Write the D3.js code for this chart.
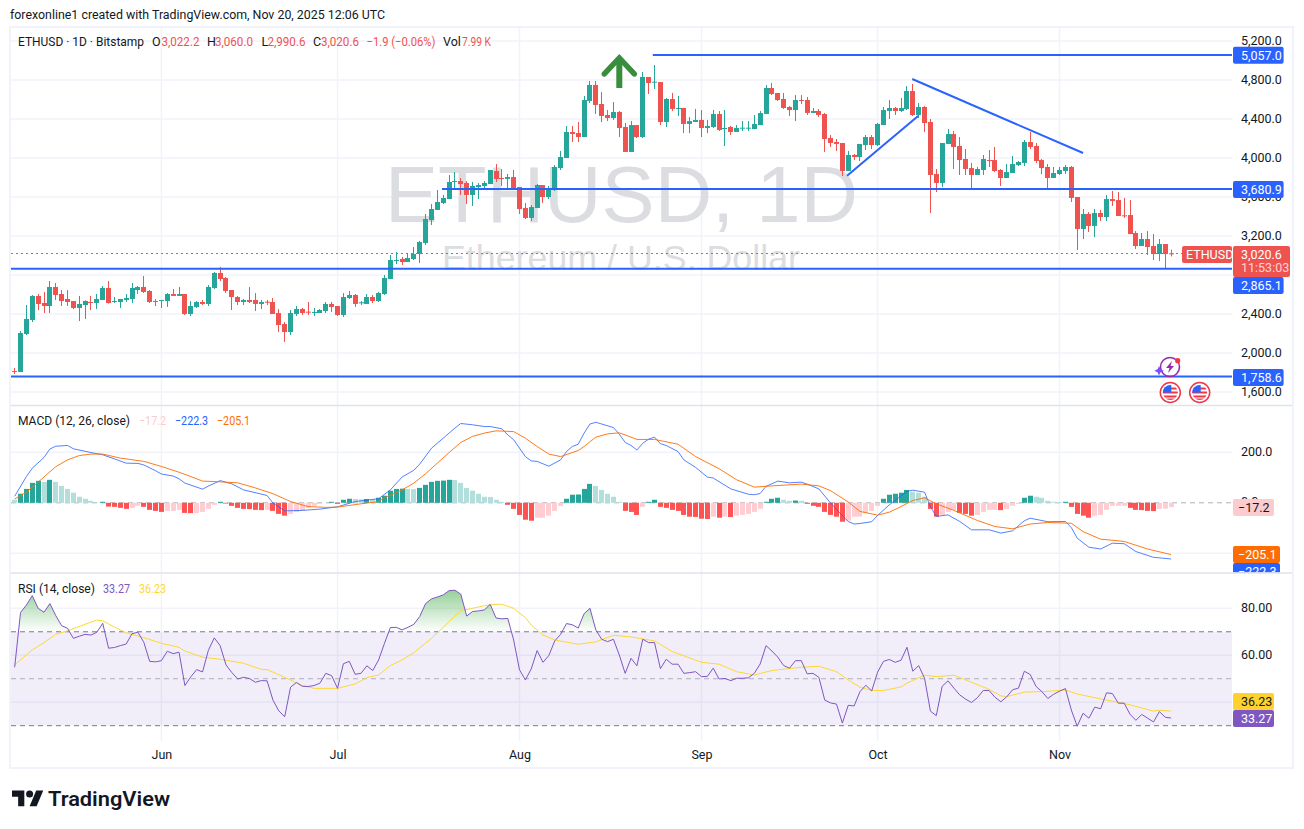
<!DOCTYPE html>
<html>
<head>
<meta charset="utf-8">
<title>ETHUSD 1D</title>
<script src="https://cdn.jsdelivr.net/npm/d3@7"></script>
<style>
    html, body { margin: 0; padding: 0; background: #fff; }
    svg { display: block; }
    text { font-family: Roboto, "Noto Sans", sans-serif; }
</style>
</head>
<body>
<svg id="chart" width="1304" height="829"></svg>
<script>
// daily bars, 7 May 2025 to 20 Nov 2025
var opens = [
    1815,1805,2195,2338,2585,2513,2482,2677,2605,2554,
    2533,2462,2492,2523,2513,2544,2667,2523,2523,2544,
    2554,2646,2677,2636,2533,2537,2533,2605,2585,2605,
    2400,2472,2523,2503,2667,2821,2769,2646,2574,2523,
    2544,2544,2503,2526,2523,2410,2297,2215,2400,2451,
    2424,2414,2410,2431,2503,2482,2390,2564,2595,2510,
    2503,2574,2533,2605,2759,2947,2964,2933,2964,3015,
    3128,3364,3467,3538,3579,3757,3764,3744,3621,3703,
    3713,3733,3867,3795,3785,3805,3703,3487,3385,3487,
    3723,3600,3682,3897,4000,4267,4256,4215,4585,4749,
    4554,4441,4410,4472,4318,4062,4338,4215,4831,4776,
    4779,4369,4605,4506,4513,4349,4369,4390,4308,4318,
    4451,4297,4318,4267,4301,4301,4297,4338,4451,4718,
    4667,4605,4523,4492,4595,4595,4462,4482,4451,4205,
    4164,4154,3867,4031,4010,4133,4215,4133,4338,4482,
    4513,4482,4503,4687,4441,4523,4369,3836,3744,4144,
    4246,4123,3990,3897,3826,3877,3979,3979,3877,3795,
    3846,3928,3949,4164,4123,3979,3908,3795,3836,3867,
    3908,3600,3272,3426,3303,3436,3395,3579,3569,3412,
    3415,3231,3097,3169,3097,3015,3118,3022.2];
var highs = [
    1846,2226,2492,2595,2605,2626,2738,2718,2646,2646,
    2533,2585,2540,2585,2605,2687,2738,2574,2554,2605,
    2718,2687,2790,2646,2554,2544,2615,2656,2677,2605,
    2533,2533,2544,2697,2831,2882,2780,2646,2585,2554,
    2677,2615,2544,2544,2564,2451,2318,2441,2482,2462,
    2523,2462,2451,2523,2523,2482,2615,2636,2605,2533,
    2605,2595,2626,2800,3005,3036,2985,3026,3087,3149,
    3426,3528,3672,3621,3826,3856,3795,3764,3754,3744,
    3764,3877,3938,3887,3836,3877,3703,3538,3518,3733,
    3723,3713,3928,4072,4328,4328,4369,4636,4790,4790,
    4677,4492,4574,4482,4359,4379,4338,4882,4831,4954,
    4779,4615,4667,4636,4513,4420,4503,4492,4390,4492,
    4482,4492,4328,4338,4379,4379,4441,4482,4749,4769,
    4667,4667,4533,4646,4646,4626,4513,4503,4462,4236,
    4195,4154,4072,4041,4144,4236,4236,4359,4523,4595,
    4523,4615,4738,4759,4564,4533,4400,3887,4154,4297,
    4277,4215,4092,3949,3908,4031,4082,4113,3887,3938,
    4021,3969,4185,4267,4154,3990,3938,3908,3908,3928,
    3918,3600,3477,3446,3477,3467,3620,3662,3651,3590,
    3569,3251,3231,3251,3220,3169,3118,3060];
var lows = [
    1785,1805,2185,2318,2441,2410,2410,2544,2482,2482,
    2451,2328,2349,2441,2451,2544,2506,2513,2462,2523,
    2513,2605,2615,2513,2482,2462,2472,2585,2585,2390,
    2379,2462,2492,2482,2656,2738,2615,2441,2492,2492,
    2513,2431,2451,2492,2400,2215,2113,2185,2379,2390,
    2390,2379,2410,2410,2421,2379,2369,2554,2472,2492,
    2503,2513,2523,2595,2759,2913,2903,2933,2954,2923,
    3108,3313,3467,3528,3579,3682,3621,3528,3508,3579,
    3692,3733,3754,3713,3682,3682,3426,3374,3354,3487,
    3538,3579,3662,3877,4000,4164,4164,4215,4564,4451,
    4369,4379,4390,4215,4062,4062,4205,4205,4656,4708,
    4338,4318,4482,4431,4256,4256,4369,4215,4256,4308,
    4277,4123,4236,4267,4277,4277,4297,4338,4451,4646,
    4585,4503,4431,4379,4554,4441,4462,4420,4062,4113,
    4072,3815,3867,3979,3969,4082,4092,4123,4338,4400,
    4441,4472,4492,4431,4410,4267,3436,3651,3703,4144,
    3887,3826,3826,3672,3826,3826,3908,3856,3713,3795,
    3846,3918,3918,4092,3949,3836,3682,3795,3826,3836,
    3549,3056,3169,3241,3190,3354,3354,3508,3405,3385,
    3220,3067,3097,3005,2954,2944,2872,2990.6];
var closes = [
    1809,2205,2349,2585,2503,2482,2677,2595,2533,2523,
    2462,2503,2533,2516,2554,2667,2513,2533,2554,2564,
    2667,2677,2626,2523,2526,2544,2605,2585,2605,2400,
    2482,2523,2503,2677,2821,2759,2636,2574,2523,2544,
    2523,2503,2523,2520,2400,2287,2215,2410,2451,2410,
    2414,2421,2441,2503,2472,2390,2574,2595,2503,2520,
    2574,2533,2615,2769,2954,2954,2933,2974,3015,3138,
    3374,3477,3549,3590,3754,3764,3733,3621,3713,3723,
    3744,3877,3785,3788,3805,3682,3477,3385,3497,3723,
    3600,3692,3908,4010,4267,4246,4215,4595,4749,4544,
    4431,4410,4472,4308,4062,4338,4215,4831,4769,4783,
    4369,4605,4503,4513,4349,4379,4390,4308,4328,4451,
    4287,4308,4267,4308,4311,4311,4349,4461,4718,4656,
    4595,4513,4492,4595,4588,4462,4482,4441,4195,4154,
    4144,3867,4031,4010,4144,4215,4133,4349,4492,4513,
    4482,4513,4687,4441,4523,4359,3826,3744,4154,4246,
    4113,3979,3887,3826,3887,3990,3973,3867,3795,3856,
    3938,3959,4164,4113,3969,3897,3795,3846,3877,3908,
    3590,3272,3426,3303,3436,3395,3579,3559,3405,3405,
    3220,3097,3169,3087,3015,3118,3015,3020.6];

// MACD histogram, one value per bar
var histValues = [
    12,36,55,79,87,83,91,83,67,55,
    40,24,16,8,1,4,-15,-16,-20,-24,
    -20,-12,-16,-28,-32,-36,-32,-32,-28,-40,
    -41,-40,-36,-24,-8,4,-3,-12,-20,-24,
    -25,-28,-29,-28,-32,-44,-51,-44,-36,-32,
    -20,-12,-4,-1,4,-4,12,16,15,14,
    15,14,20,28,48,55,56,55,54,59,
    71,83,87,88,91,90,79,59,48,36,
    24,23,12,4,-8,-24,-48,-67,-71,-59,
    -59,-51,-32,-12,16,32,33,55,75,67,
    51,36,24,4,-32,-36,-48,-16,4,12,
    -16,-20,-28,-32,-48,-55,-56,-63,-64,-55,
    -59,-55,-56,-51,-48,-44,-36,-24,4,16,
    20,12,8,9,8,-4,-12,-16,-36,-48,
    -55,-75,-71,-55,-55,-41,-32,-12,16,32,
    36,40,51,44,40,24,-24,-55,-48,-36,
    -28,-40,-44,-51,-48,-36,-28,-28,-29,-24,
    -12,-5,20,28,24,20,8,4,3,4,
    -16,-44,-51,-59,-51,-48,-28,-12,-12,-12,
    -20,-28,-29,-32,-33,-24,-23,-17.2];

// MACD and signal lines, read at the bars where they bend
var macdBars = [0,2,3,5,6,7,9,10,13,15,17,19,21,22,24,25,27,28,29,32,33,35,37,39,43,44,46,49,52,55,58,62,64,66,68,69,71,73,75,76,78,80,81,83,84,85,87,88,89,91,93,94,95,96,97,98,99,100,102,103,104,105,106,107,108,109,110,111,113,114,116,118,119,122,125,126,127,128,130,132,134,135,137,139,141,142,143,144,146,147,149,152,153,155,156,157,159,160,161,163,166,168,170,172,173,176,179,180,181,183,185,187,189,191,194,197];
var macdValues = [26,104,137,180,213,224,227,214,199,190,174,157,156,150,127,114,106,95,78,54,66,88,75,51,29,-1,-32,-30,-25,-16,5,16,51,102,129,153,216,256,296,314,309,302,302,293,269,250,183,166,164,145,170,203,223,232,276,312,319,312,298,272,239,227,209,236,252,260,234,227,203,170,140,102,98,55,34,32,37,65,86,79,82,74,55,-1,-51,-74,-84,-82,-75,-50,-8,45,50,42,-15,-54,-48,-61,-74,-107,-107,-120,-111,-71,-61,-75,-74,-98,-140,-176,-183,-160,-162,-193,-216,-222.3];
var signalBars = [0,2,4,7,9,11,13,15,18,22,25,28,30,32,35,38,41,44,47,50,53,55,59,62,63,66,68,70,72,74,76,78,80,82,85,87,89,91,93,96,97,99,101,103,104,106,109,113,116,120,123,126,129,134,137,139,142,144,147,149,151,153,155,157,160,164,167,170,173,176,180,182,185,189,193,197];
var signalValues = [15,42,82,143,170,187,193,193,177,164,144,121,104,86,83,79,59,36,5,-15,-18,-17,-4,5,20,51,78,115,157,199,239,263,276,285,282,256,223,193,183,207,223,260,273,277,269,251,251,232,183,135,91,62,67,74,67,48,3,-34,-49,-37,-15,9,20,-4,-30,-70,-94,-103,-84,-78,-81,-114,-144,-153,-183,-205.1];

// RSI, one value per bar
var rsiValues = [
    54.9,78.2,81.4,85.4,80.0,78.3,82.0,76.9,72.6,71.5,
    67.2,68.1,68.9,68.6,69.8,73.6,63.0,63.3,64.1,64.8,
    69.2,69.8,65.5,57.4,57.2,57.7,61.7,60.7,61.3,47.1,
    50.8,53.9,52.9,62.1,67.4,64.1,55.9,52.6,49.9,50.6,
    50.1,48.5,49.2,49.1,40.9,36.3,33.8,46.4,48.4,46.8,
    46.7,47.1,48.1,52.3,51.3,45.9,56.4,57.4,51.9,52.3,
    55.5,53.5,58.0,65.1,71.8,71.9,70.8,71.9,73.2,76.5,
    82.0,84.0,84.8,85.7,87.5,87.7,86.0,76.7,78.6,78.9,
    79.3,81.7,75.9,75.5,75.7,66.5,53.8,49.5,54.2,62.0,
    57.0,59.9,66.1,68.9,73.5,73.0,71.6,77.7,80.0,70.8,
    66.8,65.8,66.8,60.1,52.3,58.7,55.5,66.8,65.4,65.4,
    54.3,58.3,56.2,56.2,52.3,52.6,53.0,50.9,51.0,54.5,
    49.9,50.1,49.2,50.2,50.2,50.4,52.3,56.3,64.1,61.8,
    59.2,55.6,54.5,57.7,57.7,52.1,52.3,50.6,40.9,39.7,
    39.2,31.1,38.7,38.4,44.5,47.2,44.8,52.8,57.4,58.2,
    57.0,57.9,63.4,53.2,55.6,50.2,36.2,34.3,46.8,49.1,
    46.0,43.1,41.3,39.9,41.9,45.0,45.0,42.1,40.2,42.3,
    45.3,46.0,53.2,51.8,46.7,44.5,41.6,43.4,44.7,45.8,
    36.7,29.8,35.3,33.2,37.9,37.2,44.0,43.7,39.6,39.6,
    34.9,32.3,34.8,33.2,31.6,36.0,33.6,33.27];
var rsiMaBars = [0,3,5,7,9,12,14,15,17,19,22,25,28,29,32,35,39,42,43,46,49,51,55,58,60,62,64,66,68,71,74,76,78,80,82,83,85,87,88,90,92,96,99,102,105,109,112,117,120,123,126,129,134,137,140,142,144,146,148,151,152,155,157,160,163,166,168,169,172,175,179,181,185,188,190,194,195,197];
var rsiMaValues = [55.9,62.3,65.4,68.9,70.4,73.2,75.0,74.7,72.0,69.6,67.5,65.1,63.4,61.8,59.2,58.3,56.6,54.0,53.9,50.6,47.1,45.9,45.9,47.8,50.5,51.6,55.6,58.0,61.1,67.2,74.3,79.0,80.0,81.1,81.7,81.7,80.0,76.0,72.9,68.6,66.5,64.7,65.7,68.5,67.8,66.1,61.6,57.0,56.2,53.0,51.6,53.5,54.9,55.3,53.0,49.5,46.4,45.0,45.0,46.5,48.1,51.5,50.9,51.5,48.5,45.5,42.7,42.4,44.3,44.5,45.2,43.5,41.4,39.9,38.9,36.2,36.6,36.23];

var priceTicks = [1600, 2000, 2400, 2800, 3200, 3600, 4000, 4400, 4800, 5200];
var macdTicks = [-200, 0, 200];
var rsiTicks = [40, 60, 80];
var rsiLevels = [70, 50, 30];
var monthBars = [25, 55, 86, 117, 147, 178];
var monthLabels = ["Jun", "Jul", "Aug", "Sep", "Oct", "Nov"];

// horizontal levels: price and the bar they start from
var levelPrices = [5057.0, 3680.9, 2865.1, 1758.6];
var levelStarts = [108.7, 72.8, -0.8, -0.8];
// trend lines: bar1, price1, bar2, price2
var trendFalling = [152.9, 4810, 182, 4051];
var trendRising = [141.8, 3818, 153.9, 4431];

var fontMono = "Roboto, 'Noto Sans', sans-serif";
var up = "#26a69a", down = "#ef5350", blue = "#2962ff";
var gridColor = "#f0f3fa";
var plotRight = 1232;

var svg = d3.select("#chart");
var defs = svg.append("defs");

var x = d3.scaleLinear().domain([0, 197]).range([14.67, 1171.1]);
var yPrice = d3.scaleLinear().domain([1600, 5200]).range([392, 41]);
var yMacd = d3.scaleLinear().domain([-200, 200]).range([553.3, 452.3]);
var yRsi = d3.scaleLinear().domain([30, 80]).range([725.7, 608.3]);

function label(parent, px, py, str, fill, size, width, anchor) {
    var t = parent.append("text")
        .attr("x", px).attr("y", py)
        .attr("fill", fill)
        .attr("font-size", size)
        .attr("text-anchor", anchor || "start")
        .text(str);
    if (width) t.attr("textLength", width).attr("lengthAdjust", "spacingAndGlyphs");
    return t;
}

function tag(parent, left, top, w, h, color, str, textColor, pad) {
    parent.append("rect")
        .attr("x", left).attr("y", top)
        .attr("width", w).attr("height", h)
        .attr("rx", 2).attr("fill", color);
    label(parent, left + (pad || 8), top + 13, str, textColor, 12.5);
}

svg.append("rect").attr("width", 1304).attr("height", 829).attr("fill", "#fff");

// frame and pane separators
svg.append("rect")
    .attr("x", 10).attr("y", 27).attr("width", 1283).attr("height", 741)
    .attr("fill", "none").attr("stroke", gridColor).attr("stroke-width", 2);

// ---------- grid ----------
var grid = svg.append("g");
grid.selectAll("line.v").data(monthBars).enter().append("line")
    .attr("x1", function(d) { return x(d); })
    .attr("x2", function(d) { return x(d); })
    .attr("y1", 28).attr("y2", 741)
    .attr("stroke", gridColor).attr("stroke-width", 1.5);
grid.selectAll("line.p").data(priceTicks).enter().append("line")
    .attr("x1", 11).attr("x2", plotRight)
    .attr("y1", function(d) { return yPrice(d); })
    .attr("y2", function(d) { return yPrice(d); })
    .attr("stroke", gridColor).attr("stroke-width", 1.5);
grid.selectAll("line.m").data(macdTicks.filter(function(d) { return d !== 0; })).enter().append("line")
    .attr("x1", 11).attr("x2", plotRight)
    .attr("y1", function(d) { return yMacd(d); })
    .attr("y2", function(d) { return yMacd(d); })
    .attr("stroke", gridColor).attr("stroke-width", 1.5);
grid.selectAll("line.r").data(rsiTicks).enter().append("line")
    .attr("x1", 11).attr("x2", plotRight)
    .attr("y1", function(d) { return yRsi(d); })
    .attr("y2", function(d) { return yRsi(d); })
    .attr("stroke", gridColor).attr("stroke-width", 1.5);

// ---------- watermark ----------
var wm = svg.append("g").attr("fill", "#dcdde0");
wm.append("text").attr("x", 385).attr("y", 222).attr("font-size", 80)
    .attr("textLength", 473).attr("lengthAdjust", "spacingAndGlyphs")
    .style("font-family", "'Liberation Sans'").text("ETHUSD, 1D");
wm.append("text").attr("x", 442).attr("y", 270).attr("font-size", 35)
    .attr("textLength", 358).attr("lengthAdjust", "spacingAndGlyphs")
    .style("font-family", "'Liberation Sans'").text("Ethereum / U.S. Dollar");

// ---------- last price line ----------
svg.append("line")
    .attr("x1", 11).attr("x2", 1182)
    .attr("y1", Math.round(yPrice(closes[197])) + 0.5).attr("y2", Math.round(yPrice(closes[197])) + 0.5)
    .attr("stroke", down).attr("stroke-width", 1).attr("stroke-dasharray", "2,3");

// ---------- candles ----------
var bars = d3.range(opens.length);
var candles = svg.append("g").selectAll("g").data(bars).enter().append("g")
    .attr("fill", function(i) { return closes[i] >= opens[i] ? up : down; });
candles.append("rect")
    .attr("x", function(i) { return Math.round(x(i) - 0.5); })
    .attr("width", 1)
    .attr("y", function(i) { return yPrice(highs[i]); })
    .attr("height", function(i) { return yPrice(lows[i]) - yPrice(highs[i]); });
candles.append("rect")
    .attr("x", function(i) { return Math.round(x(i) - 0.5) - 2; })
    .attr("width", 5)
    .attr("y", function(i) { return yPrice(Math.max(opens[i], closes[i])); })
    .attr("height", function(i) {
        return Math.max(1, Math.abs(yPrice(opens[i]) - yPrice(closes[i])));
    });

// ---------- drawings ----------
var drawings = svg.append("g").attr("stroke", blue).attr("stroke-width", 2).attr("fill", "none");
drawings.selectAll("line.level").data(levelPrices).enter().append("line")
    .attr("x1", function(d, i) { return Math.max(11, x(levelStarts[i])); })
    .attr("x2", plotRight)
    .attr("y1", function(d) { return yPrice(d); })
    .attr("y2", function(d) { return yPrice(d); });
[trendFalling, trendRising].forEach(function(t) {
    drawings.append("line")
        .attr("x1", x(t[0])).attr("y1", yPrice(t[1]))
        .attr("x2", x(t[2])).attr("y2", yPrice(t[3]));
});

// green up arrow
var arrowBar = 103, arrowTop = 5026, arrowBottom = 4697, arrowWing = 4862, arrowSpan = 2.55;
var arrow = svg.append("g").attr("stroke", "#388e3c").attr("stroke-width", 5.5)
    .attr("stroke-linecap", "round").attr("stroke-linejoin", "miter").attr("fill", "none");
arrow.append("path").attr("d", d3.line()([
    [x(arrowBar - arrowSpan), yPrice(arrowWing)],
    [x(arrowBar), yPrice(arrowTop)],
    [x(arrowBar + arrowSpan), yPrice(arrowWing)]]));
arrow.append("line")
    .attr("x1", x(arrowBar)).attr("x2", x(arrowBar))
    .attr("y1", yPrice(arrowTop) + 3).attr("y2", yPrice(arrowBottom) - 2)
    .attr("stroke-linecap", "butt").attr("stroke-width", 6);

// ---------- MACD pane ----------
var macdPane = svg.append("g");
macdPane.append("line")
    .attr("x1", 11).attr("x2", plotRight)
    .attr("y1", yMacd(0)).attr("y2", yMacd(0))
    .attr("stroke", "#787b86").attr("stroke-opacity", 0.6).attr("stroke-dasharray", "5,4");

function histColor(d, i) {
    var prev = i > 0 ? histValues[i - 1] : d;
    if (d >= 0) return d > prev ? "#26a69a" : "#b2dfdb";
    return d < prev ? "#ff5252" : "#ffcdd2";
}
macdPane.selectAll("rect.hist").data(histValues).enter().append("rect")
    .attr("x", function(d, i) { return Math.round(x(i) - 0.5) - 2; })
    .attr("width", 5)
    .attr("y", function(d) { return Math.min(yMacd(d), yMacd(0)); })
    .attr("height", function(d) { return Math.abs(yMacd(d) - yMacd(0)); })
    .attr("fill", histColor);

function knotLine(barList, valueList, scale) {
    return d3.line()
        .x(function(d, i) { return x(barList[i]); })
        .y(function(d) { return scale(d); })(valueList);
}
macdPane.append("path").attr("d", knotLine(macdBars, macdValues, yMacd))
    .attr("fill", "none").attr("stroke", blue).attr("stroke-opacity", 0.8).attr("stroke-width", 1);
macdPane.append("path").attr("d", knotLine(signalBars, signalValues, yMacd))
    .attr("fill", "none").attr("stroke", "#ff6d00").attr("stroke-opacity", 0.9).attr("stroke-width", 1);

// ---------- RSI pane ----------
var rsiPane = svg.append("g");
rsiPane.append("rect")
    .attr("x", 11).attr("width", plotRight - 11)
    .attr("y", yRsi(70)).attr("height", yRsi(30) - yRsi(70))
    .attr("fill", "#7e57c2").attr("fill-opacity", 0.1);
rsiPane.selectAll("line.level").data(rsiLevels).enter().append("line")
    .attr("x1", 11).attr("x2", plotRight)
    .attr("y1", function(d) { return yRsi(d); })
    .attr("y2", function(d) { return yRsi(d); })
    .attr("stroke", "#787b86")
    .attr("stroke-opacity", function(d) { return d === 50 ? 0.55 : 1; })
    .attr("stroke-dasharray", "5,4");

// green fill over the 70 level
var obGrad = defs.append("linearGradient").attr("id", "obGrad")
    .attr("gradientUnits", "userSpaceOnUse")
    .attr("x1", 0).attr("x2", 0).attr("y1", yRsi(88)).attr("y2", yRsi(70));
obGrad.append("stop").attr("offset", 0).attr("stop-color", "#4caf50").attr("stop-opacity", 0.6);
obGrad.append("stop").attr("offset", 1).attr("stop-color", "#4caf50").attr("stop-opacity", 0);
defs.append("clipPath").attr("id", "obClip").append("rect")
    .attr("x", 11).attr("width", plotRight - 11)
    .attr("y", 574).attr("height", yRsi(70) - 574);
rsiPane.append("path")
    .attr("clip-path", "url(#obClip)")
    .attr("fill", "url(#obGrad)")
    .attr("d", d3.area()
        .x(function(d, i) { return x(i); })
        .y0(yRsi(70))
        .y1(function(d) { return yRsi(d); })(rsiValues));

rsiPane.append("path").attr("d", knotLine(rsiMaBars, rsiMaValues, yRsi))
    .attr("fill", "none").attr("stroke", "#fdd835").attr("stroke-width", 1);
rsiPane.append("path")
    .attr("d", d3.line().x(function(d, i) { return x(i); }).y(function(d) { return yRsi(d); })(rsiValues))
    .attr("fill", "none").attr("stroke", "#7e57c2").attr("stroke-width", 1);

// ---------- axes ----------
function styleAxis(g) {
    g.select(".domain").remove();
    g.selectAll("line").remove();
    g.selectAll("text").attr("fill", "#131722").attr("font-size", 12.5)
        .style("font-family", fontMono);
}
svg.append("g").attr("transform", "translate(1241,-1)")
    .call(d3.axisRight(yPrice).tickValues(priceTicks).tickSize(0).tickPadding(0).tickFormat(d3.format(",.1f")))
    .call(styleAxis);
svg.append("g").attr("transform", "translate(1241,-1)")
    .call(d3.axisRight(yMacd).tickValues([0, 200]).tickSize(0).tickPadding(0).tickFormat(d3.format(".1f")))
    .call(styleAxis);
svg.append("g").attr("transform", "translate(1241,-1)")
    .call(d3.axisRight(yRsi).tickValues([60, 80]).tickSize(0).tickPadding(0).tickFormat(d3.format(".2f")))
    .call(styleAxis);
var timeAxis = d3.axisBottom(x).tickValues(monthBars).tickSize(0).tickPadding(0)
    .tickFormat(function(d) { return monthLabels[monthBars.indexOf(d)]; });
svg.append("g").attr("transform", "translate(0,750)").call(timeAxis).call(styleAxis);

// ---------- axis tags ----------
var tags = svg.append("g");
tag(tags, 1233, 46.7, 50.6, 17, blue, "5,057.0", "#fff");
tag(tags, 1233, 181, 50.6, 17, blue, "3,680.9", "#fff");
tag(tags, 1233, 277, 50.6, 17, blue, "2,865.1", "#fff");
tag(tags, 1233, 369, 50.6, 17, blue, "1,758.6", "#fff");
tags.append("rect").attr("x", 1233).attr("y", 246).attr("width", 57).attr("height", 31).attr("rx", 2).attr("fill", down);
label(tags, 1241, 259, "3,020.6", "#fff", 12.5);
label(tags, 1241, 272, "11:53:03", "#fff", 12.5).attr("fill-opacity", 0.75);
tag(tags, 1182, 246, 50, 17, down, "ETHUSD", "#fff", 4);
tag(tags, 1233, 499, 41, 17, "#fccbcd", "\u221217.2", "#131722", 5);

defs.append("clipPath").attr("id", "macdClip").append("rect")
    .attr("x", 1200).attr("width", 100).attr("y", 406).attr("height", 166.5);
var macdTags = svg.append("g").attr("clip-path", "url(#macdClip)");
tag(macdTags, 1233, 563, 47, 17, blue, "\u2212222.3", "#fff", 5);
tag(macdTags, 1233, 546, 47, 17, "#ff6d00", "\u2212205.1", "#fff", 5);
tag(tags, 1233, 693, 41, 17, "#ffd12f", "36.23", "#131722");
tag(tags, 1233, 710, 41, 17, "#7e57c2", "33.27", "#fff");

// separators on top of the pane content
svg.append("line").attr("x1", 11).attr("x2", 1292).attr("y1", 405.5).attr("y2", 405.5)
    .attr("stroke", "#e0e3eb").attr("stroke-width", 1.5);
svg.append("line").attr("x1", 11).attr("x2", 1292).attr("y1", 573).attr("y2", 573)
    .attr("stroke", "#e0e3eb").attr("stroke-width", 1.5);

// ---------- header texts ----------
var ink = "#131722";
label(svg, 10, 19, "forexonline1 created with TradingView.com, Nov 20, 2025 12:06 UTC", ink, 12.5, 375);
label(svg, 18, 46, "ETHUSD \u00b7 1D \u00b7 Bitstamp", ink, 12.5, 126);
label(svg, 152, 46, "O", ink, 12.5);
label(svg, 161.5, 46, "3,022.2", down, 12.5, 38);
label(svg, 207, 46, "H", ink, 12.5);
label(svg, 215, 46, "3,060.0", down, 12.5, 38);
label(svg, 261.5, 46, "L", ink, 12.5);
label(svg, 267.5, 46, "2,990.6", down, 12.5, 38);
label(svg, 313, 46, "C", ink, 12.5);
label(svg, 321, 46, "3,020.6", down, 12.5, 38);
label(svg, 366.5, 46, "\u22121.9 (\u22120.06%)", down, 12.5, 69);
label(svg, 443, 46, "Vol", ink, 12.5);
label(svg, 462, 46, "7.99 K", down, 12.5, 29);

label(svg, 18, 425, "MACD (12, 26, close)", ink, 12.5, 112);
label(svg, 139, 425, "\u221217.2", "#fccbcd", 12.5, 27);
label(svg, 175, 425, "\u2212222.3", blue, 12.5, 33);
label(svg, 217, 425, "\u2212205.1", "#ff6d00", 12.5, 33);

label(svg, 18, 593, "RSI (14, close)", ink, 12.5, 77);
label(svg, 103, 593, "33.27", "#7e57c2", 12.5, 27);
label(svg, 139, 593, "36.23", "#fdd835", 12.5, 27);

// ---------- event icons ----------
function flag(px, id) {
    var g = svg.append("g").attr("transform", "translate(" + px + ",392.5)");
    g.append("circle").attr("r", 10).attr("fill", "#fff").attr("stroke", "#f23645").attr("stroke-width", 1.5);
    defs.append("clipPath").attr("id", id).append("circle").attr("r", 7.5);
    var inner = g.append("g").attr("clip-path", "url(#" + id + ")");
    [-5, -1, 3, 6].forEach(function(dy) {
        inner.append("rect").attr("x", -8).attr("y", dy).attr("width", 16).attr("height", 2).attr("fill", "#f23645");
    });
    inner.append("rect").attr("x", -8).attr("y", -8).attr("width", 9).attr("height", 8).attr("fill", "#2962ff");
}
flag(1170.3, "flagA");
flag(1199.7, "flagB");
var spark = svg.append("g").attr("transform", "translate(1170,367)");
spark.append("circle").attr("r", 9.5).attr("fill", "none").attr("stroke", "#9c27b0").attr("stroke-width", 1.6);
spark.append("path").attr("d", "M2,-6 L-4,1 L-0.5,1 L-2,6 L4,-1 L0.5,-1 Z").attr("fill", "#9c27b0");
spark.append("circle").attr("cx", 7.7).attr("cy", -6.3).attr("r", 2.6).attr("fill", "#f23645");
spark.append("path").attr("d", "M-11,-1 L-9.5,2.2 L-6.3,3.7 L-9.5,5.2 L-11,8.4 L-12.5,5.2 L-15.7,3.7 L-12.5,2.2 Z").attr("fill", "#7c4dff");

// ---------- logo ----------
var logo = svg.append("g").attr("transform", "translate(12,787) scale(0.88)").attr("fill", "#131722");
logo.append("path").attr("d", "M14 22H7V11H0V4h14v18zM28 22h-8l7.5-18h8L28 22z");
logo.append("circle").attr("cx", 20).attr("cy", 8).attr("r", 4);
label(svg, 48, 806, "TradingView", "#131722", 21, 122).attr("font-weight", 600);
</script>
</body>
</html>
